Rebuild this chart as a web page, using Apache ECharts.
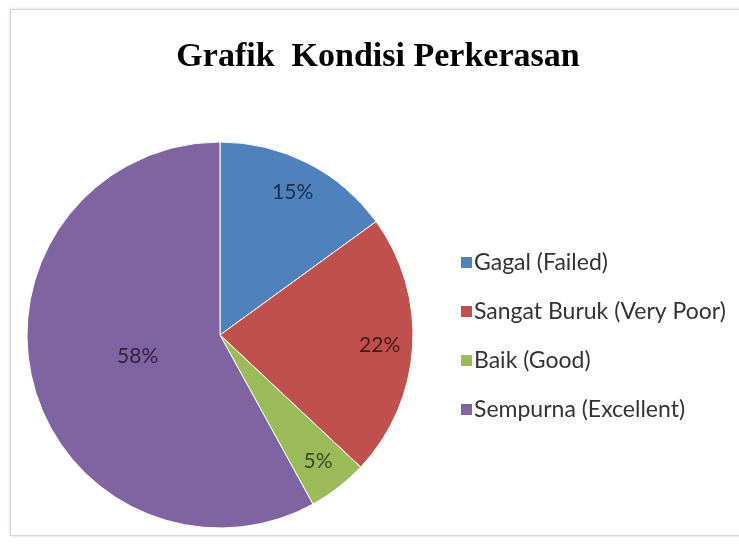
<!DOCTYPE html>
<html>
<head>
<meta charset="utf-8">
<script src="https://cdn.jsdelivr.net/npm/echarts@6/dist/echarts.min.js"></script>
<style>
  html, body { margin: 0; padding: 0; background: #fff; }
  #wrap {
    position: absolute; left: 10px; top: 9px; width: 740px; height: 525px;
    border: 1px solid #d4d4d4; box-shadow: 0 0 3px rgba(0,0,0,0.15);
  }
  #chart { position: absolute; left: 0; top: 0; width: 739px; height: 544px; }
</style>
</head>
<body>
<div id="wrap"></div>
<div id="chart"></div>
<script>
const categories = ['Gagal (Failed)', 'Sangat Buruk (Very Poor)', 'Baik (Good)', 'Sempurna (Excellent)']
const values = [15, 22, 5, 58]
const colors = ['#4f81bd', '#c0504d', '#9bbb59', '#8064a2']
const labelColors = ['#1c2e4a', '#4a1716', '#3a4a1c', '#2e2340']

let chart = echarts.init(document.getElementById('chart'))
const pieData = categories.map((name, i) => ({ name, value: values[i] }))

// transparent pie used only to place labels at a given radius
function labelPie (outer, show) {
  return {
    type: 'pie',
    center: [220, 335],
    radius: [0, outer],
    startAngle: 90,
    clockwise: true,
    silent: true,
    data: pieData.map((d, i) => ({ ...d, label: { color: labelColors[i] } })),
    itemStyle: { color: 'rgba(0,0,0,0)' },
    label: {
      show: true,
      position: 'inside',
      formatter: p => show.includes(p.dataIndex) ? p.value + '%' : '',
      fontFamily: 'Lato',
      fontSize: 21
    },
    labelLine: { show: false },
    emphasis: { disabled: true }
  }
}

chart.setOption({
  color: colors,
  title: {
    text: 'Grafik  Kondisi Perkerasan',
    left: 373,
    textAlign: 'center',
    top: 35,
    textStyle: {
      fontFamily: 'Liberation Serif',
      fontWeight: 'bold',
      fontSize: 34,
      color: '#000'
    }
  },
  legend: {
    orient: 'vertical',
    left: 454,
    top: 246,
    itemGap: 26,
    itemWidth: 13,
    itemHeight: 13,
    icon: 'rect',
    data: categories,
    textStyle: {
      fontFamily: 'Lato',
      fontSize: 23,
      color: '#333',
      padding: [0, 0, 0, -4]
    }
  },
  series: [
    {
      type: 'pie',
      center: [220, 335],
      radius: [0, 193],
      startAngle: 90,
      clockwise: true,
      data: pieData,
      itemStyle: { borderColor: '#fff', borderWidth: 1 },
      label: { show: false },
      labelLine: { show: false },
      emphasis: { disabled: true }
    },
    labelPie(314, [0, 1, 2]),
    labelPie(164, [3])
  ]
})
</script>
</body>
</html>
